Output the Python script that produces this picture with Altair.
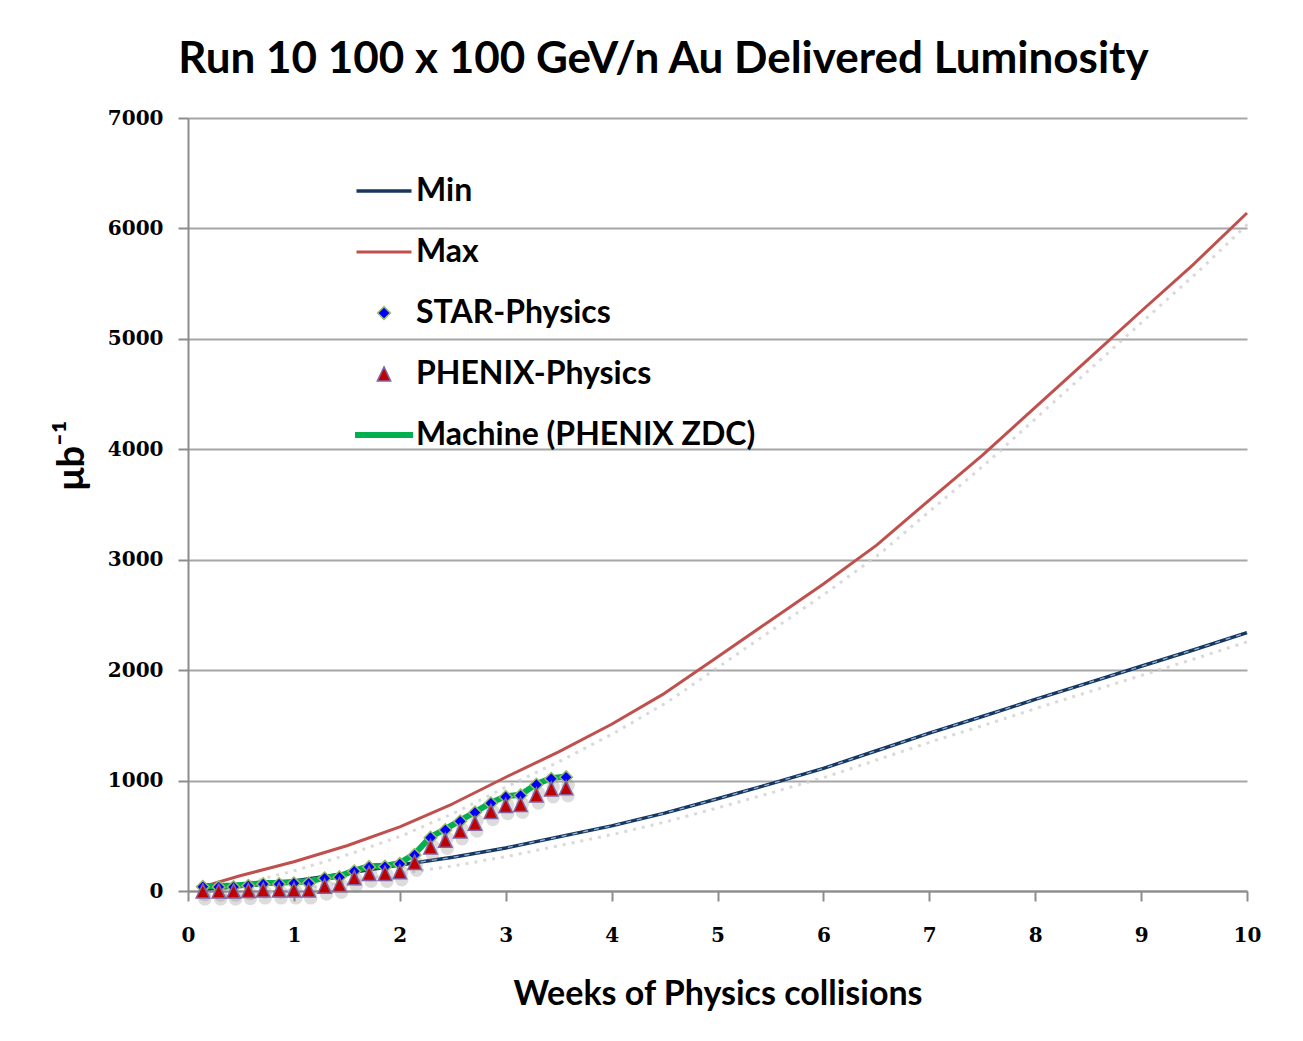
import altair as alt
import pandas as pd

SERIES = ["Min", "Max", "STAR-Physics", "PHENIX-Physics", "Machine (PHENIX ZDC)"]

# Projection curves (weeks, integrated luminosity)
proj_weeks = [0.14, 0.5, 1, 1.5, 2, 2.5, 3, 3.5, 4, 4.5, 5, 5.5, 6, 6.5, 7, 7.5, 8, 8.5, 9, 9.5, 10]
min_vals = [15, 40, 90, 160, 235, 305, 390, 490, 590, 705, 835, 970, 1110, 1270, 1430, 1580, 1735, 1885, 2035, 2185, 2340]
max_vals = [40, 140, 265, 410, 580, 790, 1030, 1260, 1510, 1790, 2120, 2450, 2780, 3130, 3540, 3945, 4380, 4815, 5250, 5680, 6140]

# Daily delivered values (weeks)
day_weeks = [0.14, 0.29, 0.43, 0.57, 0.71, 0.86, 1.0, 1.14, 1.29, 1.43, 1.57, 1.71, 1.86,
             2.0, 2.14, 2.29, 2.43, 2.57, 2.71, 2.86, 3.0, 3.14, 3.29, 3.43, 3.57]
star_vals = [38, 36, 36, 47, 62, 62, 70, 70, 115, 125, 178, 218, 220,
             245, 326, 483, 552, 631, 711, 794, 852, 865, 963, 1016, 1030]
phenix_vals = [0, 0, 0, 5, 10, 10, 10, 10, 45, 60, 120, 160, 160,
               175, 260, 400, 460, 545, 615, 720, 775, 785, 870, 925, 935]
machine_vals = [45, 45, 50, 58, 72, 75, 82, 85, 120, 135, 185, 225, 228,
                255, 335, 490, 560, 640, 715, 800, 858, 872, 968, 1022, 1038]

x_ticks = [0, 1, 2, 3, 4, 5, 6, 7, 8, 9, 10]
y_ticks = [0, 1000, 2000, 3000, 4000, 5000, 6000, 7000]

rows = []
for w, v in zip(proj_weeks, min_vals):
    rows.append({"series": "Min", "week": w, "value": v})
for w, v in zip(proj_weeks, max_vals):
    rows.append({"series": "Max", "week": w, "value": v})
for w, v in zip(day_weeks, machine_vals):
    rows.append({"series": "Machine (PHENIX ZDC)", "week": w, "value": v})
for w, v in zip(day_weeks, star_vals):
    rows.append({"series": "STAR-Physics", "week": w, "value": v})
for w, v in zip(day_weeks, phenix_vals):
    rows.append({"series": "PHENIX-Physics", "week": w, "value": v})
df = pd.DataFrame(rows)

NAVY = "#17375E"
RED = "#C0504D"
GREEN = "#00B050"
TALL_TRIANGLE = "M0,-0.85L0.8,0.85L-0.8,0.85Z"

stroke_scale = alt.Scale(domain=SERIES, range=[NAVY, RED, "#9BBB59", "#8064A2", GREEN])
fill_scale = alt.Scale(domain=SERIES, range=[NAVY, RED, "#0000FF", "#C00000", GREEN])
shape_scale = alt.Scale(domain=SERIES, range=["stroke", "stroke", "diamond", TALL_TRIANGLE, "stroke"])
sw_scale = alt.Scale(type="ordinal", domain=SERIES, range=[3.5, 3, 1.5, 1.5, 6])
size_scale = alt.Scale(type="ordinal", domain=SERIES, range=[3025, 3025, 160, 280, 3364])

leg = alt.Legend(title=None)

x_enc = alt.X("week:Q", scale=alt.Scale(domain=[0, 10], nice=False, zero=False),
              axis=alt.Axis(values=x_ticks, title="Weeks of Physics collisions", grid=False,
                            labelPadding=24, titlePadding=32, format="d", labelFlush=False,
                            titleFontSize=34))
y_enc = alt.Y("value:Q", scale=alt.Scale(domain=[0, 7000], nice=False),
              axis=alt.Axis(values=y_ticks, title="μb⁻¹", grid=True, labelPadding=15,
                            titlePadding=16, format="d", titleY=337, titleFontSize=38))

base = alt.Chart(df)

def only(names):
    return alt.FieldOneOfPredicate(field="series", oneOf=names)

# drop shadows
line_shadow = base.transform_filter(only(["Min", "Max"])).mark_line(
    color="#D0D0D0", strokeWidth=3, strokeDash=[3, 6], xOffset=4, yOffset=8, opacity=0.8
).encode(x=x_enc, y=y_enc, detail="series:N")

minmax = base.transform_filter(only(["Min", "Max"])).mark_line(strokeJoin="round").encode(
    x=x_enc, y=y_enc,
    stroke=alt.Stroke("series:N", scale=stroke_scale, legend=leg),
    strokeWidth=alt.StrokeWidth("series:N", scale=sw_scale, legend=leg),
)

min_dash = base.transform_filter(only(["Min"])).mark_line(
    color="#8DB4E2", strokeWidth=1.3, strokeDash=[5, 6]
).encode(x=x_enc, y=y_enc)

machine = base.transform_filter(only(["Machine (PHENIX ZDC)"])).mark_line(
    strokeJoin="round", strokeCap="round").encode(
    x=x_enc, y=y_enc,
    stroke=alt.Stroke("series:N", scale=stroke_scale, legend=leg),
    strokeWidth=alt.StrokeWidth("series:N", scale=sw_scale, legend=leg),
)

pt_shadow = base.transform_filter(only(["STAR-Physics", "PHENIX-Physics"])).mark_point(
    filled=True, color="#8A8A8A", opacity=0.3, size=180, shape="circle", xOffset=2, yOffset=8
).encode(x=x_enc, y=y_enc)

points = base.transform_filter(only(["STAR-Physics", "PHENIX-Physics"])).mark_point(
    filled=True, opacity=1).encode(
    x=x_enc, y=y_enc,
    shape=alt.Shape("series:N", scale=shape_scale, legend=leg),
    fill=alt.Fill("series:N", scale=fill_scale, legend=leg),
    stroke=alt.Stroke("series:N", scale=stroke_scale, legend=leg),
    strokeWidth=alt.StrokeWidth("series:N", scale=sw_scale, legend=leg),
    size=alt.Size("series:N", scale=size_scale, legend=leg),
)

chart = alt.layer(line_shadow, minmax, min_dash, machine, pt_shadow, points).properties(
    width=1059, height=773,
    title=alt.Title(text="Run 10 100 x 100 GeV/n Au Delivered Luminosity",
                    font="Lato", fontSize=44, fontWeight="bold", color="black",
                    anchor="middle", dx=-54, offset=26),
    padding={"left": 180, "top": 110, "right": 40, "bottom": 140},
    autosize=alt.AutoSizeParams(type="none"),
).configure_view(stroke=None).configure_axis(
    domainColor="#8C8C8C", domainWidth=2, tickColor="#8C8C8C", tickWidth=2, tickSize=10,
    gridColor="#A6A6A6", gridWidth=2,
    labelFont="DejaVu Serif", labelFontWeight="bold", labelFontSize=20, labelColor="black",
    titleFont="Lato", titleFontWeight="bold", titleFontSize=32, titleColor="black",
).configure_legend(
    orient="none", legendX=164, legendY=43, labelFont="Lato", labelFontSize=32,
    labelFontWeight="bold", labelColor="black", labelOffset=0, rowPadding=1, padding=0,
    labelLimit=600, clipHeight=60,
)

chart.save("out.html", embed_options={"renderer": "svg", "actions": False})
